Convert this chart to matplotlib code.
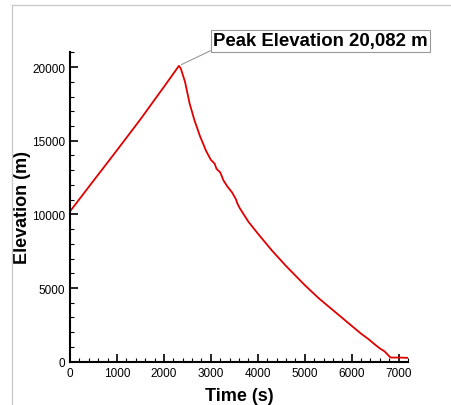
import matplotlib
matplotlib.use("Agg")
import matplotlib.pyplot as plt
from matplotlib.lines import Line2D
from matplotlib.ticker import MultipleLocator

plt.rcParams['font.family'] = ['Liberation Sans', 'DejaVu Sans']

# flight profile
time_s = [0, 500, 1000, 1500, 2000, 2320, 2360, 2450, 2550, 2650, 2770,
          2900, 3000, 3080, 3120, 3150, 3200, 3270, 3350, 3450, 3530, 3570,
          3620, 3800, 4000, 4300, 4600, 5000, 5300, 5600, 5900, 6200, 6350,
          6500, 6600, 6700, 6820, 6850, 7000, 7200]
elev_m = [10200, 12280, 14350, 16450, 18650, 20082, 19900, 19000, 17500,
          16400, 15300, 14300, 13700, 13450, 13100, 13000, 12850, 12300,
          11900, 11500, 11050, 10700, 10400, 9500, 8700, 7550, 6500, 5200,
          4300, 3500, 2700, 1900, 1550, 1150, 900, 700, 300, 280, 280, 260]

peak_t = 2320
peak_v = 20082
peak_label = 'Peak Elevation 20,082 m'

fig = plt.figure(figsize=(4.51, 4.06), dpi=100)
ax = fig.add_axes([0.1552, 0.1067, 0.7495, 0.762])

ax.plot(time_s, elev_m, color='#e00000', lw=1.3)

ax.set_xlim(0, 7200)
ax.set_ylim(0, 21000)
ax.xaxis.set_major_locator(MultipleLocator(1000))
ax.xaxis.set_minor_locator(MultipleLocator(200))
ax.yaxis.set_major_locator(MultipleLocator(5000))
ax.yaxis.set_minor_locator(MultipleLocator(1000))
ax.tick_params(which='both', direction='in', width=1.2, labelsize=8.5,
               top=False, right=False)
ax.tick_params(which='major', length=5.5)
ax.tick_params(which='minor', length=3, width=0.8)
for side in ['top', 'right']:
    ax.spines[side].set_visible(False)
for side in ['left', 'bottom']:
    ax.spines[side].set_linewidth(1.5)

ax.set_xlabel('Time (s)', fontsize=13, fontweight='bold', labelpad=6)
ax.set_ylabel('Elevation (m)', fontsize=13, fontweight='bold', labelpad=1)

# label box sits at about (212, 42) px from the top-left corner
ax.annotate(peak_label, xy=(peak_t, peak_v), xytext=(213, 406 - 42),
            textcoords='figure pixels', fontsize=13.4, fontweight='bold',
            va='center', ha='left',
            bbox=dict(boxstyle='square,pad=0.12', fc='white', ec='#999999', lw=0.8),
            arrowprops=dict(arrowstyle='-', color='#999999', lw=0.8,
                            shrinkA=0, shrinkB=2, relpos=(0, 0)))

# thin frame lines around the image like the reference
fig.add_artist(Line2D([12 / 451, 1], [1 - 6 / 406, 1 - 6 / 406],
                      color='#cccccc', lw=1, transform=fig.transFigure))
fig.add_artist(Line2D([12 / 451, 12 / 451], [0, 1 - 6 / 406],
                      color='#cccccc', lw=1, transform=fig.transFigure))

fig.savefig('out.png', dpi=100)
